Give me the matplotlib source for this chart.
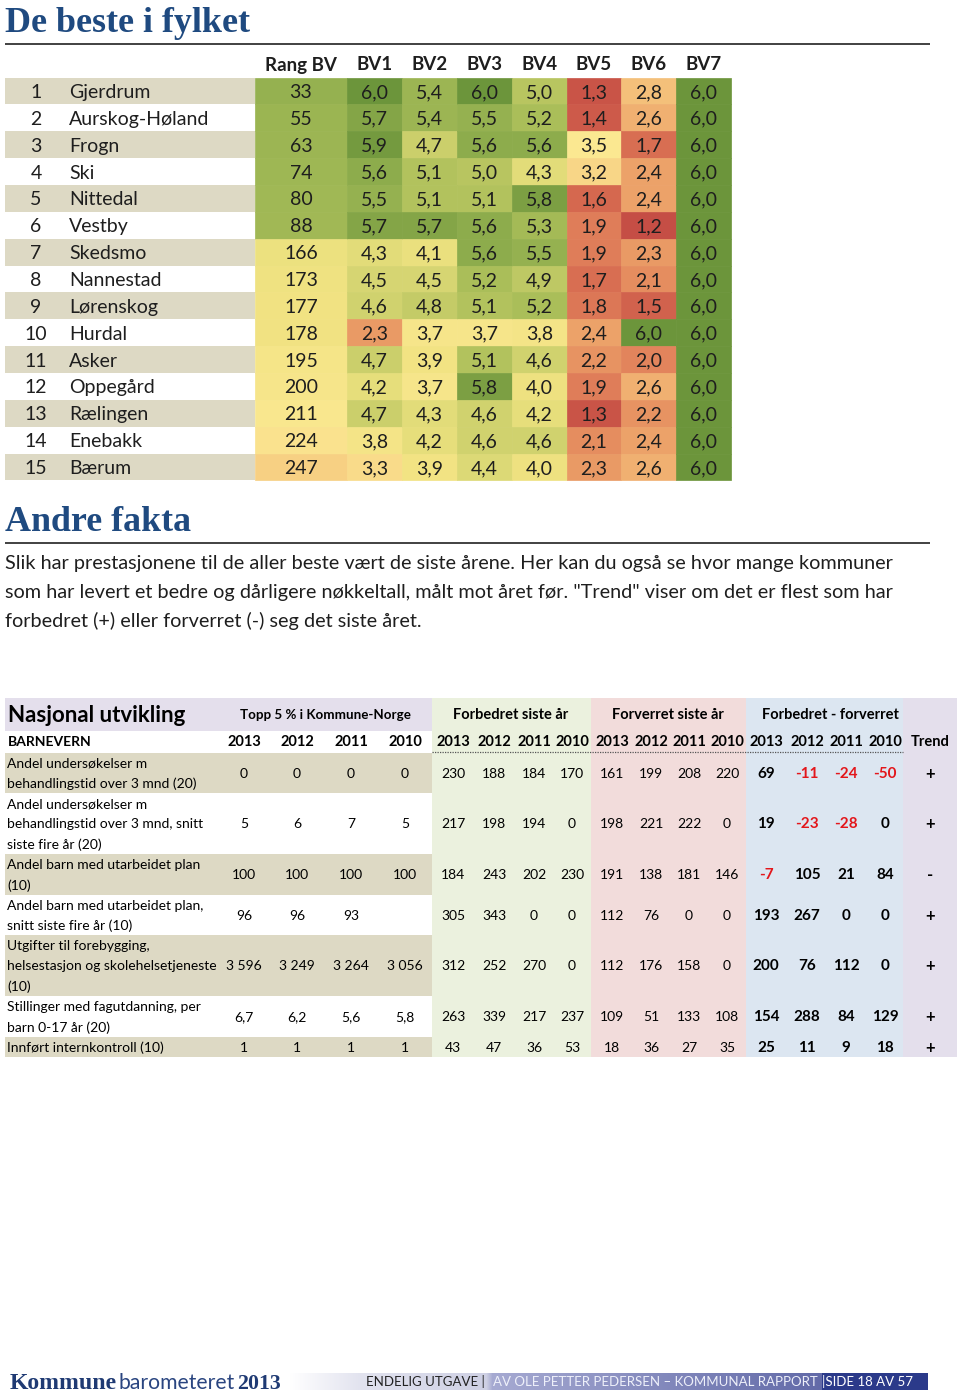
import numpy as np
import matplotlib
matplotlib.use("Agg")
import matplotlib.pyplot as plt
from matplotlib.colors import LinearSegmentedColormap, Normalize
from matplotlib.patches import Rectangle

# ---------------- DATA ----------------
ranks = list(range(1, 16))
names = ["Gjerdrum", "Aurskog-Høland", "Frogn", "Ski", "Nittedal", "Vestby",
         "Skedsmo", "Nannestad", "Lørenskog", "Hurdal", "Asker", "Oppegård",
         "Rælingen", "Enebakk", "Bærum"]
col_labels = ["Rang BV", "BV1", "BV2", "BV3", "BV4", "BV5", "BV6", "BV7"]
rang_bv = [33, 55, 63, 74, 80, 88, 166, 173, 177, 178, 195, 200, 211, 224, 247]
bv1 = [6.0, 5.7, 5.9, 5.6, 5.5, 5.7, 4.3, 4.5, 4.6, 2.3, 4.7, 4.2, 4.7, 3.8, 3.3]
bv2 = [5.4, 5.4, 4.7, 5.1, 5.1, 5.7, 4.1, 4.5, 4.8, 3.7, 3.9, 3.7, 4.3, 4.2, 3.9]
bv3 = [6.0, 5.5, 5.6, 5.0, 5.1, 5.6, 5.6, 5.2, 5.1, 3.7, 5.1, 5.8, 4.6, 4.6, 4.4]
bv4 = [5.0, 5.2, 5.6, 4.3, 5.8, 5.3, 5.5, 4.9, 5.2, 3.8, 4.6, 4.0, 4.2, 4.6, 4.0]
bv5 = [1.3, 1.4, 3.5, 3.2, 1.6, 1.9, 1.9, 1.7, 1.8, 2.4, 2.2, 1.9, 1.3, 2.1, 2.3]
bv6 = [2.8, 2.6, 1.7, 2.4, 2.4, 1.2, 2.3, 2.1, 1.5, 6.0, 2.0, 2.6, 2.2, 2.4, 2.6]
bv7 = [6.0] * 15

indicators = [
    "Andel undersøkelser m\nbehandlingstid over 3 mnd (20)",
    "Andel undersøkelser m\nbehandlingstid over 3 mnd, snitt\nsiste fire år (20)",
    "Andel barn med utarbeidet plan\n(10)",
    "Andel barn med utarbeidet plan,\nsnitt siste fire år (10)",
    "Utgifter til forebygging,\nhelsestasjon og skolehelsetjeneste\n(10)",
    "Stillinger med fagutdanning, per\nbarn 0-17 år (20)",
    "Innført internkontroll (10)",
]
years = ["2013", "2012", "2011", "2010"]
topp5_2013 = [0, 5, 100, 96, 3596, 6.7, 1]
topp5_2012 = [0, 6, 100, 96, 3249, 6.2, 1]
topp5_2011 = [0, 7, 100, 93, 3264, 5.6, 1]
topp5_2010 = [0, 5, 100, None, 3056, 5.8, 1]
forb_2013 = [230, 217, 184, 305, 312, 263, 43]
forb_2012 = [188, 198, 243, 343, 252, 339, 47]
forb_2011 = [184, 194, 202, 0, 270, 217, 36]
forb_2010 = [170, 0, 230, 0, 0, 237, 53]
forv_2013 = [161, 198, 191, 112, 112, 109, 18]
forv_2012 = [199, 221, 138, 76, 176, 51, 36]
forv_2011 = [208, 222, 181, 0, 158, 133, 27]
forv_2010 = [220, 0, 146, 0, 0, 108, 35]
trend = ["+", "+", "-", "+", "+", "+", "+"]

paragraph = [
    "Slik har prestasjonene til de aller beste vært de siste årene. Her kan du også se hvor mange kommuner",
    "som har levert et bedre og dårligere nøkkeltall, målt mot året før. \"Trend\" viser om det er flest som har",
    "forbedret (+) eller forverret (-) seg det siste året.",
]

# ---------------- STYLE ----------------
SANS = ["Lato", "DejaVu Sans"]
SERIF = ["Liberation Serif", "DejaVu Serif"]
BLUE = "#1f4a80"
BEIGE = "#ddd9c4"
TXT = "#1e1e1e"

fig = plt.figure(figsize=(9.6, 13.93), dpi=100)
ax = fig.add_axes([0, 0, 1, 1])
ax.set_xlim(0, 960)
ax.set_ylim(1393, 0)
ax.axis("off")
renderer = fig.canvas.get_renderer()


def fit(t, w):
    bb = t.get_window_extent(renderer=renderer)
    t.set_fontsize(t.get_fontsize() * w / bb.width)
    return t.get_fontsize()


# ---------------- TITLE ----------------
t = ax.text(5, 32, "De beste i fylket", fontsize=26, family=SERIF, weight="bold",
            color=BLUE, ha="left", va="baseline")
fit(t, 245)
ax.plot([5, 930], [43.5, 43.5], color="#333333", lw=1.3, solid_capstyle="butt")

# ---------------- TABLE 1 (heatmap) ----------------
row_h = 26.86
y0 = 77.5
centers = [y0 + row_h * (i + 0.5) for i in range(len(names))]
x_edges = [255, 347, 402, 457, 512, 567, 621, 676, 731]
TOFF = 1.5  # text baseline nudge

nodes = [(1.2, (197, 78, 69)), (1.6, (213, 104, 79)), (2.0, (226, 133, 92)),
         (2.4, (236, 162, 105)), (2.8, (244, 192, 122)), (3.2, (248, 214, 135)),
         (3.5, (251, 232, 145)), (3.9, (242, 227, 131)), (4.3, (226, 220, 121)),
         (4.7, (203, 207, 107)), (5.1, (178, 194, 93)), (5.5, (150, 178, 80)),
         (5.8, (125, 160, 68)), (6.0, (108, 149, 59))]
vmin, vmax = 1.2, 6.0
cmap = LinearSegmentedColormap.from_list(
    "bv", [((v - vmin) / (vmax - vmin), tuple(c / 255 for c in col)) for v, col in nodes])
norm = Normalize(vmin, vmax)


def rang_to_score(r):
    return np.interp(r, [0, 100, 160, 210, 260], [5.6, 5.3, 4.1, 3.6, 2.9])


# left label background
odd_rows = [c for i, c in enumerate(centers) if i % 2 == 0]
ax.barh(odd_rows, 250, left=5, height=row_h, color=BEIGE, lw=0)

columns = [rang_bv, bv1, bv2, bv3, bv4, bv5, bv6, bv7]
for j, vals in enumerate(columns):
    x0, x1 = x_edges[j], x_edges[j + 1]
    if j == 0:
        cols = [cmap(norm(rang_to_score(v))) for v in vals]
        labels = [str(v) for v in vals]
    else:
        cols = [cmap(norm(v)) for v in vals]
        labels = [f"{v:.1f}".replace(".", ",") for v in vals]
    ax.barh(centers, x1 - x0, left=x0, height=row_h, color=cols, edgecolor=cols, lw=0.5)
    for yc, lab in zip(centers, labels):
        ax.text((x0 + x1) / 2, yc + TOFF, lab, fontsize=14, family=SANS, color=TXT,
                ha="center", va="center")
    ax.text((x0 + x1) / 2, 65, col_labels[j], fontsize=13.5, family=SANS, weight="bold",
            color=TXT, ha="center", va="center")

for yc, r, n in zip(centers, ranks, names):
    ax.text(36, yc + TOFF, str(r), fontsize=14, family=SANS, color=TXT, ha="center", va="center")
    ax.text(69, yc + TOFF, n, fontsize=14, family=SANS, color=TXT, ha="left", va="center")

# ---------------- ANDRE FAKTA ----------------
t = ax.text(5, 531, "Andre fakta", fontsize=26, family=SERIF, weight="bold",
            color=BLUE, ha="left", va="baseline")
fit(t, 186)
ax.plot([5, 930], [543, 543], color="#333333", lw=1.3, solid_capstyle="butt")

pys = [564, 592.5, 621]
t = ax.text(5, pys[0], paragraph[0], fontsize=13, family=SANS, color=TXT, ha="left", va="center")
fs_par = fit(t, 885)
for s, yy in zip(paragraph[1:], pys[1:]):
    ax.text(5, yy, s, fontsize=fs_par, family=SANS, color=TXT, ha="left", va="center")

# ---------------- TABLE 2 ----------------
top2, bot2 = 698, 1057
LAV = "#e4dfec"
ax.add_patch(Rectangle((5, top2), 427, 32.5, color=LAV, lw=0))
ax.add_patch(Rectangle((432, top2), 159, bot2 - top2, color="#ebf1de", lw=0))
ax.add_patch(Rectangle((591, top2), 155, bot2 - top2, color="#f2dcdb", lw=0))
ax.add_patch(Rectangle((746, top2), 157, bot2 - top2, color="#dce6f1", lw=0))
ax.add_patch(Rectangle((903, top2), 54, bot2 - top2, color=LAV, lw=0))

ax.text(8, 716, "Nasjonal utvikling", fontsize=16, family=SANS, weight="bold",
        color="black", ha="left", va="center")
hdr = dict(fontsize=10.5, family=SANS, weight="bold", color="black", ha="center", va="center")
ax.text(325, 715, "Topp 5 % i Kommune-Norge", **{**hdr, "fontsize": 9.6})
ax.text(511, 715, "Forbedret siste år", **hdr)
ax.text(668, 715, "Forverret siste år", **hdr)
ax.text(830, 715, "Forbedret - forverret", **hdr)

yr_y = 742
ax.text(8, yr_y, "BARNEVERN", fontsize=10, family=SANS, weight="bold", color="black",
        ha="left", va="center")
x_top5 = [244, 297, 351, 405]
x_forb = [453, 494, 534, 572]
x_forv = [612, 651, 689, 727]
x_diff = [766, 807, 846, 885]
x_trend = 930
yr_kw = dict(fontsize=10.5, family=SANS, weight="bold", color="black", ha="center", va="center")
for xs in (x_top5, x_forb, x_forv, x_diff):
    for x, yl in zip(xs, years):
        ax.text(x, yr_y, yl, **yr_kw)
ax.text(x_trend, yr_y, "Trend", **yr_kw)
ax.plot([432, 903], [752, 752], color="#555555", lw=0.9, ls=(0, (1, 1)))


def fmt(v):
    if v is None:
        return ""
    if isinstance(v, float) and not float(v).is_integer():
        return f"{v:.1f}".replace(".", ",")
    v = int(v)
    if abs(v) >= 1000:
        return f"{v:,}".replace(",", " ")
    return str(v)


line_h = 20.3
n_lines = [s.count("\n") + 1 for s in indicators]
tops = [752.5]
for n in n_lines:
    tops.append(tops[-1] + n * line_h)

topp5 = [topp5_2013, topp5_2012, topp5_2011, topp5_2010]
forb = [forb_2013, forb_2012, forb_2011, forb_2010]
forv = [forv_2013, forv_2012, forv_2011, forv_2010]
diff = [[a - b for a, b in zip(fa, fb)] for fa, fb in zip(forb, forv)]

val_kw = dict(fontsize=10, family=SANS, color="black", ha="center", va="center")
for i, lab in enumerate(indicators):
    top, bot = tops[i], tops[i + 1]
    yc = (top + bot) / 2 + 0.8
    if i % 2 == 0:
        ax.add_patch(Rectangle((5, top), 427, bot - top, color=BEIGE, lw=0))
    for k, ln in enumerate(lab.split("\n")):
        ax.text(7, top + line_h * (k + 0.5) + 0.8, ln, fontsize=10, family=SANS, color="black",
                ha="left", va="center")
    for c in range(4):
        ax.text(x_top5[c], yc, fmt(topp5[c][i]), **val_kw)
        ax.text(x_forb[c], yc, fmt(forb[c][i]), **val_kw)
        ax.text(x_forv[c], yc, fmt(forv[c][i]), **val_kw)
        d = diff[c][i]
        ax.text(x_diff[c], yc, fmt(d), fontsize=11, family=SANS, weight="bold",
                color="#e3161b" if d < 0 else "black", ha="center", va="center")
    ax.text(x_trend, yc, trend[i], fontsize=12, family=SANS, weight="bold", color="black",
            ha="center", va="center")

# ---------------- FOOTER ----------------
fy0, fy1 = 1373, 1390
xs = np.arange(290, 822)
stops_x = [290, 360, 486, 492, 822]
stops_c = np.array([(255, 255, 255), (226, 227, 239), (206, 208, 228),
                    (166, 170, 210), (98, 106, 168)]) / 255
grad = np.stack([np.interp(xs, stops_x, stops_c[:, k]) for k in range(3)], axis=-1)[None, :, :]
ax.imshow(grad, extent=[290, 822, fy1, fy0], aspect="auto", interpolation="bilinear", zorder=1)
ax.add_patch(Rectangle((822, fy0), 106, fy1 - fy0, color="#2b3a8a", lw=0, zorder=1))
ax.set_xlim(0, 960)
ax.set_ylim(1393, 0)

fyc = 1381.5
t2 = ax.text(493, fyc, "AV OLE PETTER PEDERSEN – KOMMUNAL RAPPORT", fontsize=10.5,
             family=SANS, color="#eef0fa", ha="left", va="center", zorder=3)
fs_f = fit(t2, 325)
ax.text(366, fyc, "ENDELIG UTGAVE |", fontsize=fs_f, family=SANS, color="#222222",
        ha="left", va="center", zorder=3)
ax.text(822, fyc, "|SIDE 18 AV 57", fontsize=fs_f, family=SANS, color="white",
        ha="left", va="center", zorder=3)

tk = ax.text(10, 1389, "Kommune", fontsize=14, family=SERIF, weight="bold", color="#1f3a73",
             ha="left", va="baseline", zorder=3)
fit(tk, 107)
tb = ax.text(118, 1389, "barometeret", fontsize=14, family=SANS, weight="normal",
             color="#2a4580", ha="left", va="baseline", zorder=3)
fit(tb, 116)
ty = ax.text(237, 1389, "2013", fontsize=14, family=SERIF, weight="bold", color="#1f3a73",
             ha="left", va="baseline", zorder=3)
fit(ty, 44)

fig.savefig("out.png", dpi=100, facecolor="white")
